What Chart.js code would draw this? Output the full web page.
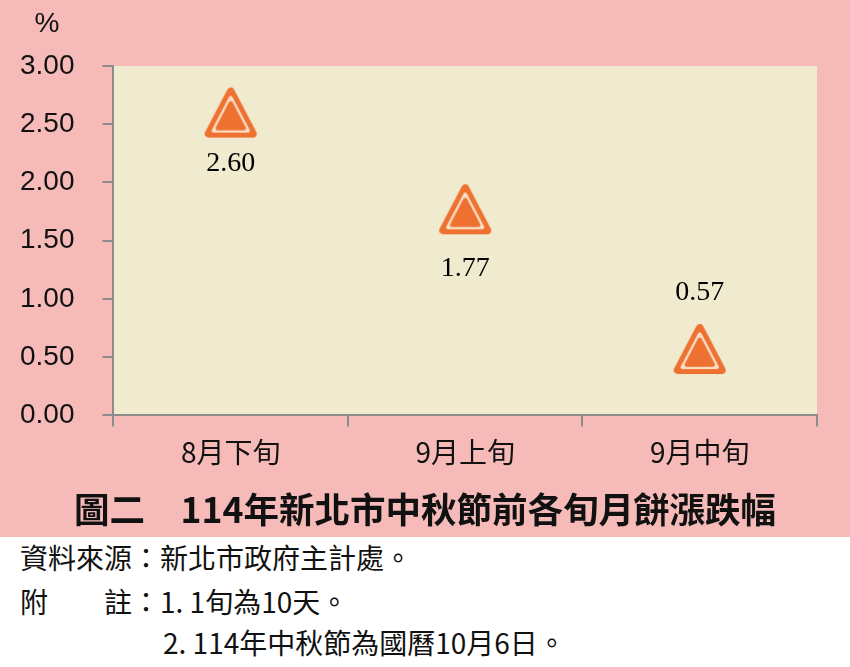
<!DOCTYPE html>
<html lang="zh-Hant">
<head>
<meta charset="utf-8">
<script src="https://cdn.jsdelivr.net/npm/chart.js@4.4.1/dist/chart.umd.min.js"></script>
<style>
  html, body { margin: 0; padding: 0; background: #ffffff; overflow: hidden; }
  #wrap { position: relative; width: 850px; height: 667px; }
  canvas { display: block; }
  .note { position: absolute; font-family: "Noto Sans CJK TC", "Noto Sans", sans-serif; font-size: 28px; line-height: 28px; color: #111; white-space: pre; }
</style>
</head>
<body>
<div id="wrap">
  <canvas id="c" width="850" height="537"></canvas>
  <div class="note" style="left:20px; top:543px;">資料來源：新北市政府主計處。</div>
  <div class="note" style="left:20px; top:587px;">附　　註：1. 1旬為10天。</div>
  <div class="note" style="left:163px; top:628px;">2. 114年中秋節為國曆10月6日。</div>
</div>
<script>
const categories = ['8月下旬', '9月上旬', '9月中旬'];
const changeRates = [2.60, 1.77, 0.57];
const yTickValues = [0, 0.5, 1.0, 1.5, 2.0, 2.5, 3.0];
const unitLabel = '%';
const chartTitle = '圖二　114年新北市中秋節前各旬月餅漲跌幅';

const PINK = '#F6BBB8';
const CREAM = '#F0EBCE';
const ORANGE = '#EE7131';
const AXIS = '#8C8C8C';
const NUM_FONT = '"Liberation Sans", Arial, sans-serif';
const CJK_FONT = '"Noto Sans CJK TC", "Noto Sans", sans-serif';

function makeTriangle() {
  const c = document.createElement('canvas');
  c.width = 54; c.height = 52;
  const g = c.getContext('2d');
  const A = [27, 5], B = [5, 47], C = [49, 47];
  const inc = [27, 33.69];
  function tri(k, color, lw) {
    const p = [A, B, C].map(v => [inc[0] + (v[0] - inc[0]) * k, inc[1] + (v[1] - inc[1]) * k]);
    g.beginPath();
    g.moveTo(p[0][0], p[0][1]); g.lineTo(p[1][0], p[1][1]); g.lineTo(p[2][0], p[2][1]); g.closePath();
    g.fillStyle = color; g.strokeStyle = color; g.lineWidth = lw; g.lineJoin = 'round';
    g.fill(); g.stroke();
  }
  tri(1, ORANGE, 8);
  tri(0.78, '#F8DFC4', 4);
  tri(0.6, ORANGE, 4);
  return c;
}
const triImg = makeTriangle();

const bgPlugin = {
  id: 'bg',
  beforeDraw(chart) {
    const { ctx, chartArea: a } = chart;
    ctx.save();
    ctx.fillStyle = PINK;
    ctx.fillRect(0, 0, chart.width, chart.height);
    ctx.fillStyle = CREAM;
    ctx.fillRect(a.left, a.top, a.right - a.left, a.bottom - a.top);
    ctx.fillStyle = '#111';
    ctx.textAlign = 'center';
    ctx.textBaseline = 'middle';
    ctx.font = '28px ' + NUM_FONT;
    ctx.fillText(unitLabel, 47, 24);
    ctx.font = 'bold 35.5px ' + CJK_FONT;
    ctx.fillText(chartTitle, chart.width / 2, 510);
    ctx.restore();
  }
};

const labelPlugin = {
  id: 'valueLabels',
  afterDatasetsDraw(chart, args, opts) {
    const { ctx } = chart;
    const meta = chart.getDatasetMeta(0);
    ctx.save();
    ctx.font = '28px "Liberation Serif", "Times New Roman", serif';
    ctx.fillStyle = '#000';
    ctx.textAlign = 'center';
    ctx.textBaseline = 'middle';
    meta.data.forEach((pt, i) => {
      const v = chart.data.datasets[0].data[i];
      ctx.fillText(v.toFixed(2), pt.x, pt.y + opts.offsets[i]);
    });
    ctx.restore();
  }
};

new Chart(document.getElementById('c'), {
  type: 'line',
  data: {
    labels: categories,
    datasets: [{
      data: changeRates,
      showLine: false,
      pointStyle: triImg,
      pointRadius: 26,
      pointHoverRadius: 26,
      clip: false
    }]
  },
  plugins: [bgPlugin, labelPlugin],
  options: {
    responsive: false,
    animation: false,
    devicePixelRatio: 1,
    layout: { padding: { left: 20, right: 33, top: 66, bottom: 59 } },
    plugins: {
      legend: { display: false },
      tooltip: { enabled: false },
      title: { display: false },
      valueLabels: { offsets: [51, 59, -56] }
    },
    scales: {
      x: {
        offset: true,
        grid: { offset: true, drawOnChartArea: false, color: AXIS, lineWidth: 2, tickLength: 11 },
        border: { color: AXIS, width: 2 },
        ticks: {
          color: '#111',
          padding: 9,
          font: { family: CJK_FONT, size: 28 }
        }
      },
      y: {
        min: 0,
        max: 3,
        afterBuildTicks(scale) { scale.ticks = yTickValues.map(v => ({ value: v })); },
        grid: { drawOnChartArea: false, color: AXIS, lineWidth: 2, tickLength: 11 },
        border: { color: AXIS, width: 2 },
        ticks: {
          color: '#111',
          padding: 14,
          crossAlign: 'far',
          font: { family: NUM_FONT, size: 28 },
          callback: v => Number(v).toFixed(2)
        }
      }
    }
  }
});
</script>
</body>
</html>
